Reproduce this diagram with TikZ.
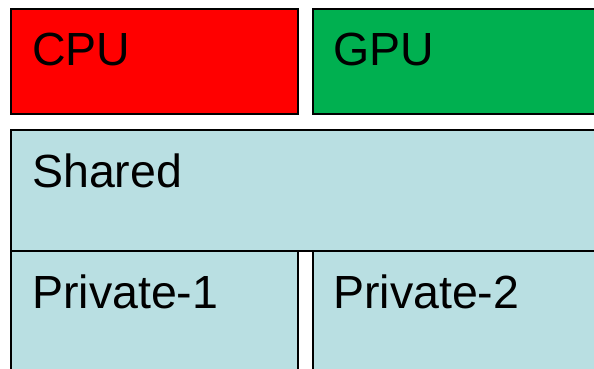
\documentclass[tikz,border=0pt]{standalone}
\usepackage{fontspec}
\setmainfont{Liberation Sans}
\definecolor{cpured}{RGB}{255,0,0}
\definecolor{gpugreen}{RGB}{0,176,80}
\definecolor{memblue}{RGB}{185,223,226}
\tikzset{
  block/.style={draw=black, line width=2pt},
  lbl/.style={anchor=base west, inner sep=0pt, font=\fontsize{46.5}{50}\selectfont}
}
\begin{document}
\begin{tikzpicture}[x=1pt,y=-1pt]
\useasboundingbox (0,0) rectangle (594,368);
\clip (0,0) rectangle (594,368);
\fill[white] (0,0) rectangle (594,368);
\draw[block, fill=cpured] (11,9) rectangle (298,114);
\coordinate (cpuNW) at (11,9);
\draw[block, fill=gpugreen] (313,9) rectangle (620,114);
\coordinate (gpuNW) at (313,9);
\draw[block, fill=memblue] (11,130) rectangle (620,251);
\coordinate (shNW) at (11,130);
\draw[block, fill=memblue] (11,251) rectangle (298,400);
\coordinate (p1NW) at (11,251);
\draw[block, fill=memblue] (313,251) rectangle (620,400);
\coordinate (p2NW) at (313,251);
\node[lbl] (cpu) at (32,65) {CPU};
\node[lbl] (gpu) at (333,65) {GPU};
\node[lbl] (shared) at (32,187) {Shared};
\node[lbl] (priv1) at (32,308) {Private-1};
\node[lbl] (priv2) at (333,308) {Private-2};
\end{tikzpicture}
\end{document}
